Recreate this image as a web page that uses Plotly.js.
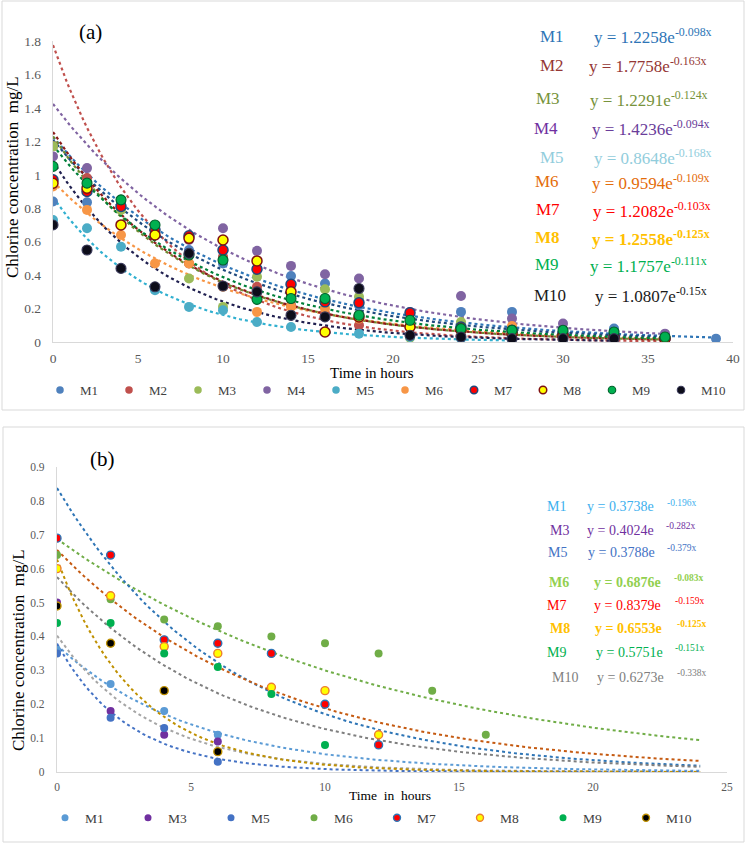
<!DOCTYPE html>
<html><head><meta charset="utf-8">
<script src="https://cdn.plot.ly/plotly-3.0.1.min.js"></script>
<style>html,body{margin:0;padding:0;background:#fff}</style>
</head><body><div id="chart" style="width:747px;height:844px"></div>
<script>
// ---------- Panel (a) data ----------
const timeA = [0,2,4,6,8,10,12,14,16,18,21,24,27,30,33,36,39];
const m1A  = [0.84,0.835,0.84,0.68,0.55,0.47,0.44,0.395,0.35,0.22,0.175,0.18,0.18,0.07,0.08,0.04,0.02];
const m2A  = [1.17,0.98,0.83,0.66,0.47,0.51,0.33,0.22,0.17,0.10,0.10,0.08,0.06,0.04,0.03,0.02,null];
const m3A  = [1.17,0.95,0.79,0.64,0.38,0.21,0.39,0.28,0.315,0.27,0.025,0.12,0.07,0.05,0.04,0.02,null];
const m4A  = [1.11,1.04,0.83,0.69,0.61,0.68,0.545,0.455,0.405,0.38,0.18,0.275,0.14,0.11,0.06,0.05,null];
const m5A  = [0.73,0.68,0.57,0.31,0.21,0.19,0.12,0.09,0.06,0.05,0.03,0.02,0.02,null,null,null,null];
const m6A  = [0.93,0.79,0.64,0.47,0.47,0.33,0.18,0.21,0.20,0.14,0.10,0.09,0.095,0.06,0.04,0.03,null];
const m7A  = [0.97,0.90,0.81,0.67,0.635,0.55,0.435,0.345,0.24,0.235,0.175,0.09,0.07,0.05,0.04,0.02,null];
const m8A  = [0.95,0.92,0.70,0.64,0.62,0.61,0.485,0.30,0.06,0.15,0.09,0.07,0.05,0.04,0.03,0.02,null];
const m9A  = [1.05,0.95,0.85,0.70,0.52,0.49,0.255,0.26,0.26,0.16,0.13,0.08,0.07,0.07,0.06,0.03,null];
const m10A = [0.70,0.55,0.44,0.33,0.53,0.335,0.30,0.16,0.15,0.32,0.04,0.03,0.02,0.02,0.02,null,null];
const namesA = ["M1","M2","M3","M4","M5","M6","M7","M8","M9","M10"];
const coefA = [1.2258,1.7758,1.2291,1.4236,0.8648,0.9594,1.2082,1.2558,1.1757,1.0807];
const rateA = [-0.098,-0.163,-0.124,-0.094,-0.168,-0.109,-0.103,-0.125,-0.111,-0.15];
const yTicksA = [0,0.2,0.4,0.6,0.8,1,1.2,1.4,1.6,1.8];

// ---------- Panel (b) data ----------
const timeB = [0,2,4,6,8,10,12,14,16];
const m1B  = [0.36,0.26,0.18,0.11,null,null,null,null,null];
const m3B  = [0.50,0.18,0.11,0.09,null,null,null,null,null];
const m5B  = [0.35,0.16,0.13,0.03,null,null,null,null,null];
const m6B  = [0.64,0.51,0.45,0.43,0.40,0.38,0.35,0.24,0.11];
const m7B  = [0.69,0.64,0.39,0.38,0.35,0.20,0.08,null,null];
const m8B  = [0.60,0.52,0.37,0.35,0.25,0.24,0.11,null,null];
const m9B  = [0.44,0.44,0.35,0.31,0.23,0.08,null,null,null];
const m10B = [0.49,0.38,0.24,0.06,null,null,null,null,null];
const namesB = ["M1","M3","M5","M6","M7","M8","M9","M10"];
const coefB = [0.3738,0.4024,0.3788,0.6876,0.8379,0.6553,0.5751,0.6273];
const rateB = [-0.196,-0.282,-0.379,-0.083,-0.159,-0.125,-0.151,-0.338];
const trendEndB = 24;

// ---------- styles ----------
const serif = "Liberation Serif, Times New Roman, serif";
const W = 747, H = 844;
const px = v => v / W, py = v => 1 - v / H;

const seriesA = [m1A,m2A,m3A,m4A,m5A,m6A,m7A,m8A,m9A,m10A];
const fillA = ["#4F81BD","#C0504D","#9BBB59","#8064A2","#4BACC6","#F79646","#FF0000","#FFFF00","#00B050","#0D0D1A"];
const ringA = ["#4F81BD","#C0504D","#9BBB59","#8064A2","#4BACC6","#F79646","#1F497D","#7F1010","#00602B","#3A3A5A"];
const ringWA = [0,0,0,0,0,0,1.5,1.5,1.1,1.1];
const trendColA = ["#2E75B6","#C0504D","#6E8B30","#8064A2","#31B0D0","#F79646","#1F497D","#8B1A1A","#00803A","#202050"];

const seriesB = [m1B,m3B,m5B,m6B,m7B,m8B,m9B,m10B];
const fillB = ["#5B9BD5","#7030A0","#4472C4","#70AD47","#FF0000","#FFFF00","#00B050","#000000"];
const ringB = ["#5B9BD5","#7030A0","#4472C4","#70AD47","#2E75B6","#ED7D31","#00B050","#BF9000"];
const ringWB = [0,0,0,0,1.4,1.4,0,1.4];
const trendColB = ["#5B9BD5","#A5A5A5","#4472C4","#70AD47","#2E75B6","#C55A11","#7F7F7F","#BF9000"];

const traces = [];
function lastX(times, vals){ let e = 0; vals.forEach((v,i)=>{ if(v!==null) e = times[i]; }); return e; }
function curve(a, b, x1){ const xs=[], ys=[]; for(let x=0; x<=x1+1e-9; x+=0.2){ xs.push(x); ys.push(a*Math.exp(b*x)); } return {xs, ys}; }

// trendlines (a)
seriesA.forEach((s,i)=>{
  const c = curve(coefA[i], rateA[i], lastX(timeA, s));
  traces.push({x:c.xs, y:c.ys, xaxis:"x", yaxis:"y", mode:"lines", showlegend:false, hoverinfo:"skip",
    line:{color:trendColA[i], width:2.2, dash:"dot"}});
});
// markers (a)
seriesA.forEach((s,i)=>{
  traces.push({x:timeA, y:s, xaxis:"x", yaxis:"y", mode:"markers", name:namesA[i], showlegend:false,
    marker:{size:10, color:fillA[i], line:{color:ringA[i], width:ringWA[i]}}});
});
// legend entries (a) — smaller symbols as in the reference legend
namesA.forEach((n,i)=>{
  traces.push({x:[null], y:[null], xaxis:"x", yaxis:"y", mode:"markers", name:n, legend:"legend",
    marker:{size:7.5, color:fillA[i], line:{color:ringA[i], width:ringWA[i]}}});
});
// trendlines (b)
seriesB.forEach((s,i)=>{
  const c = curve(coefB[i], rateB[i], trendEndB);
  traces.push({x:c.xs, y:c.ys, xaxis:"x2", yaxis:"y2", mode:"lines", showlegend:false, hoverinfo:"skip",
    line:{color:trendColB[i], width:2, dash:"dot"}});
});
// markers (b)
seriesB.forEach((s,i)=>{
  traces.push({x:timeB, y:s, xaxis:"x2", yaxis:"y2", mode:"markers", name:namesB[i], showlegend:false,
    marker:{size:8, color:fillB[i], line:{color:ringB[i], width:ringWB[i]}}});
});
namesB.forEach((n,i)=>{
  traces.push({x:[null], y:[null], xaxis:"x2", yaxis:"y2", mode:"markers", name:n, legend:"legend2",
    marker:{size:7, color:fillB[i], line:{color:ringB[i], width:ringWB[i]}}});
});

// ---------- annotations ----------
const ann = [];
function A(o){ ann.push(Object.assign({xref:"paper", yref:"paper", showarrow:false, xanchor:"center", yanchor:"middle"}, o)); }
A({text:"(a)", x:px(90), y:py(32), font:{family:serif, size:21, color:"#000"}});
A({text:"(b)", x:px(102), y:py(459), font:{family:serif, size:21, color:"#000"}});
A({text:"Chlorine concentration  mg/L", textangle:-90, x:px(13), y:py(177), font:{family:serif, size:17, color:"#000"}});
A({text:"Chlorine concentration  mg/L", textangle:-90, x:px(18), y:py(650), font:{family:serif, size:17, color:"#000"}});
A({text:"Time in hours", x:px(372), y:py(373), font:{family:serif, size:15, color:"#000"}});
A({text:"Time  in  hours", x:px(390), y:py(795), font:{family:serif, size:13.5, color:"#000"}});

// equations (a)
const eqRowYA = [36,65,99,128,157,182,210,238,265,295];
const eqLabXA = [552,552,548,546,552,547,548,547,547,550];
const eqStartXA = [592,587,588,590,592,590,591,590,588,593];
const labColA = ["#2E75B6","#953735","#77933C","#7030A0","#92CDDC","#E46C0A","#FF0000","#FFC000","#00B050","#1A1A1A"];
const eqColA  = ["#2E75B6","#953735","#77933C","#6A3D9A","#92CDDC","#E46C0A","#FF0000","#FFC000","#00B050","#1A1A1A"];
namesA.forEach((n,i)=>{
  const bold = (n==="M8");
  A({text: bold?"<b>"+n+"</b>":n, x:px(eqLabXA[i]), y:py(eqRowYA[i]), font:{family:serif, size:17, color:labColA[i]}});
  const t = "y = "+coefA[i]+"e<sup>"+rateA[i]+"x</sup>";
  A({text: bold?"<b>"+t+"</b>":t, x:px(eqStartXA[i]), y:py(eqRowYA[i]), xanchor:"left", font:{family:serif, size:17, color:eqColA[i]}});
});

// equations (b)
const eqRowYB = [507,530,552,582,605,628,652,677];
const eqLabXB = [556,559,557,559,556,560,556,565];
const eqStartXB = [585,585,586,592,592,593,594,595];
const supXB = [665,664,665,672,673,675,673,675];
const colB = ["#3DB0EE","#7030A0","#4472C4","#92D050","#FF0000","#FFC000","#00B050","#808080"];
namesB.forEach((n,i)=>{
  const bold = (n==="M6"||n==="M8");
  const B = s => bold ? "<b>"+s+"</b>" : s;
  A({text:B(n), x:px(eqLabXB[i]), y:py(eqRowYB[i]), font:{family:serif, size:14, color:colB[i]}});
  A({text:B("y = "+coefB[i]+"e"), x:px(eqStartXB[i]), y:py(eqRowYB[i]), xanchor:"left", font:{family:serif, size:14, color:colB[i]}});
  A({text:B(rateB[i]+"x"), x:px(supXB[i]), y:py(eqRowYB[i]-4), xanchor:"left", font:{family:serif, size:9.5, color:colB[i]}});
});

const tickFontA = {family:serif, size:13.5, color:"#595959"};
const tickFontB = {family:serif, size:11.5, color:"#595959"};

const layout = {
  width:W, height:H, margin:{l:0,r:0,t:0,b:0}, paper_bgcolor:"#fff", plot_bgcolor:"rgba(0,0,0,0)",
  font:{family:serif},
  xaxis:{domain:[px(53),px(733)], anchor:"y", range:[0,40], dtick:5, tick0:0, showgrid:false, zeroline:false,
    showline:true, linecolor:"#D9D9D9", linewidth:1.2, ticks:"outside", ticklen:4, tickcolor:"rgba(0,0,0,0)", tickfont:tickFontA},
  yaxis:{domain:[py(342),py(41)], anchor:"x", range:[0,1.8], tickvals:yTicksA, showgrid:false, zeroline:false,
    showline:true, linecolor:"#D9D9D9", linewidth:1.2, ticks:"outside", ticklen:8, tickcolor:"rgba(0,0,0,0)", tickfont:tickFontA},
  xaxis2:{domain:[px(57),px(727)], anchor:"y2", range:[0,25], dtick:5, tick0:0, showgrid:false, zeroline:false,
    showline:true, linecolor:"#D9D9D9", linewidth:1.2, ticks:"outside", ticklen:4, tickcolor:"rgba(0,0,0,0)", tickfont:tickFontB},
  yaxis2:{domain:[py(772),py(467)], anchor:"x2", range:[0,0.9], dtick:0.1, tick0:0, showgrid:false, zeroline:false,
    showline:true, linecolor:"#D9D9D9", linewidth:1.2, ticks:"outside", ticklen:9, tickcolor:"rgba(0,0,0,0)", tickfont:tickFontB},
  legend:{orientation:"h", x:px(40), y:py(390), xanchor:"left", yanchor:"middle", bgcolor:"rgba(0,0,0,0)",
    font:{family:serif, size:13, color:"#404040"}, entrywidth:24, itemwidth:30, tracegroupgap:0},
  legend2:{orientation:"h", x:px(45), y:py(818), xanchor:"left", yanchor:"middle", bgcolor:"rgba(0,0,0,0)",
    font:{family:serif, size:13.5, color:"#404040"}, entrywidth:38, itemwidth:30, tracegroupgap:0},
  shapes:[
    {type:"rect", xref:"paper", yref:"paper", x0:px(2), x1:px(744), y0:py(1), y1:py(410), line:{color:"#D9D9D9", width:1}},
    {type:"rect", xref:"paper", yref:"paper", x0:px(3), x1:px(744), y0:py(427), y1:py(842), line:{color:"#D9D9D9", width:1}}
  ],
  annotations:ann, showlegend:true
};
Plotly.newPlot("chart", traces, layout, {displayModeBar:false, staticPlot:true});
</script></body></html>
